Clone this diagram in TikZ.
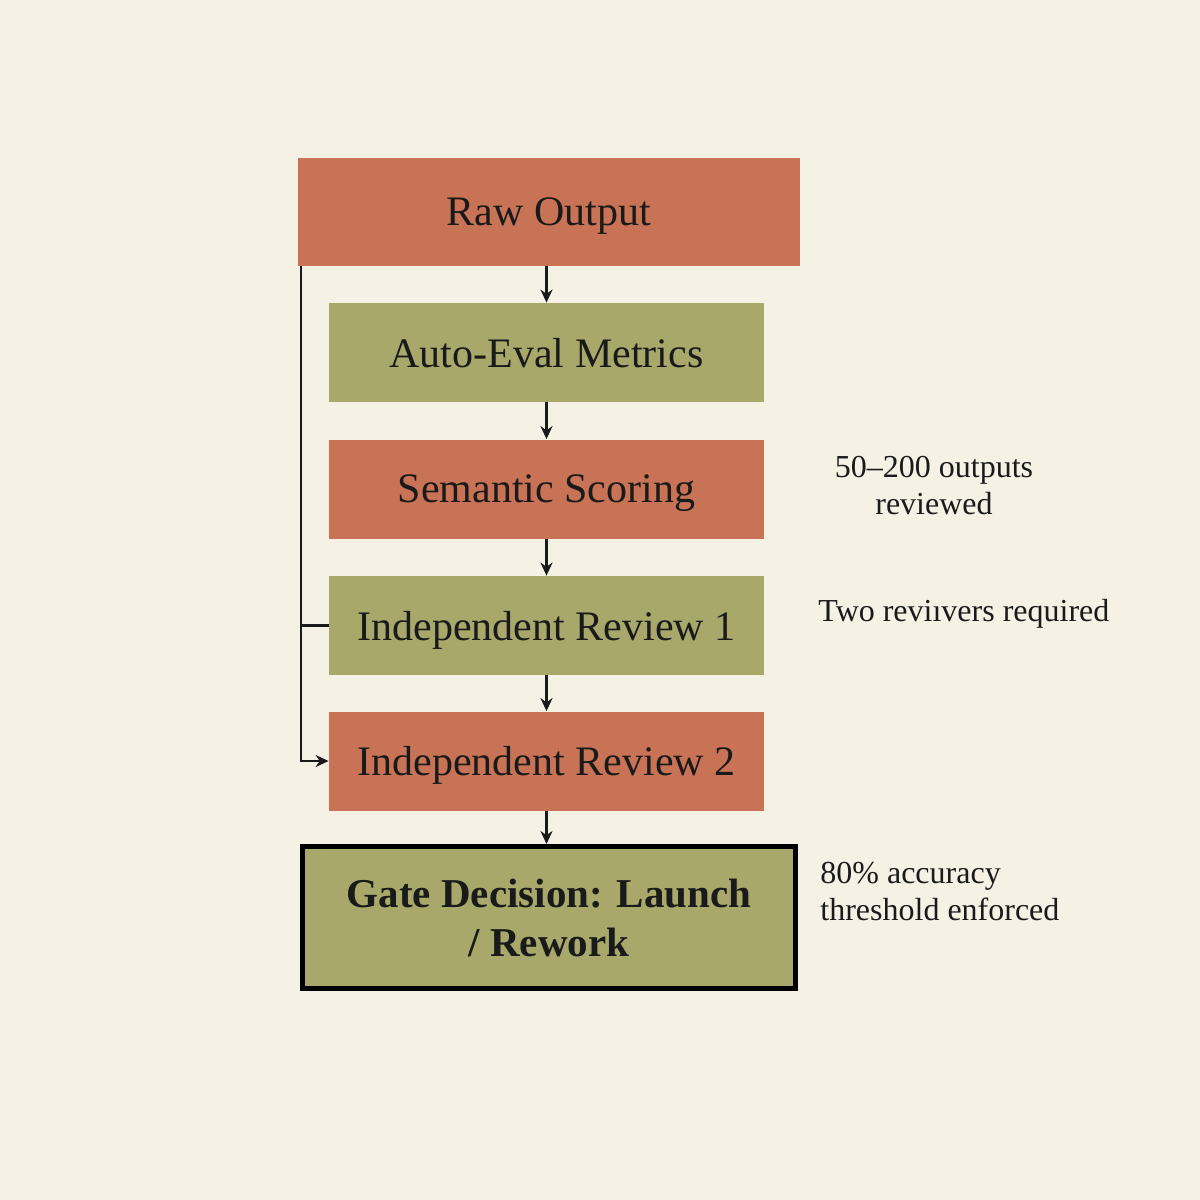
\documentclass[tikz,border=0pt]{standalone}
\usepackage{fontspec}
\setmainfont{Liberation Serif}
\usetikzlibrary{arrows.meta,positioning,calc}
\definecolor{paper}{HTML}{F5F1E5}
\definecolor{rust}{HTML}{C87355}
\definecolor{olive}{HTML}{A8A86A}
\definecolor{ink}{HTML}{1A1A1A}

\begin{document}
\begin{tikzpicture}[x=0.5pt,y=-0.5pt,
  box/.style={minimum width=217.5pt,minimum height=49.5pt,inner sep=0,text depth=0pt,text=ink,font=\fontsize{21}{25}\selectfont},
  gatebox/.style={fill=olive,draw=black,line width=2.5pt,minimum width=246.5pt,minimum height=71pt,inner sep=0,
    text=ink,align=center,font=\fontsize{20.5}{24.5}\selectfont\bfseries},
  note/.style={inner sep=0,text=ink,font=\fontsize{16}{18.5}\selectfont},
  arr/.style={-{Stealth[length=6.5pt,width=6pt]},line width=1.1pt,draw=ink}]
\fill[paper] (0,0) rectangle (1200,1200);
% pipeline
\node[box,fill=rust,minimum width=251pt,minimum height=54pt] (raw) at (549,212) {Raw Output};
\node[box,fill=olive] (auto) at (546.5,352.5) {Auto-Eval Metrics};
\node[box,fill=rust] (sem) at (546.5,489) {Semantic Scoring};
\node[box,fill=olive] (rev1) at (546.5,625.5) {Independent Review 1};
\node[box,fill=rust] (rev2) at (546.5,761) {Independent Review 2};
\node[gatebox] (gate) at (549,917.5) {Gate Decision: Launch\\/ Rework};
\draw[arr] (raw.south -| auto.north) -- (auto.north);
\draw[arr] (auto) -- (sem);
\draw[arr] (sem) -- (rev1);
\draw[arr] (rev1) -- (rev2);
\draw[arr] (rev2.south) -- (rev2.south |- gate.north);
% bypass line
\coordinate (bus) at ($ (raw.south west) + (3,0) $);
\draw[arr] (bus) |- (rev2.west);
\draw[-,line width=1.1pt,draw=ink] (bus |- rev1.west) -- (rev1.west);
% side notes
\node[note,align=center] (count) at (934,486) {50–200 outputs\\reviewed};
\node[note,anchor=west] (pair) at (818,614) {Two revi\i vers required};
\node[note,anchor=west,align=left] (thresh) at (820,892) {80\% accuracy\\threshold enforced};
\end{tikzpicture}
\end{document}
